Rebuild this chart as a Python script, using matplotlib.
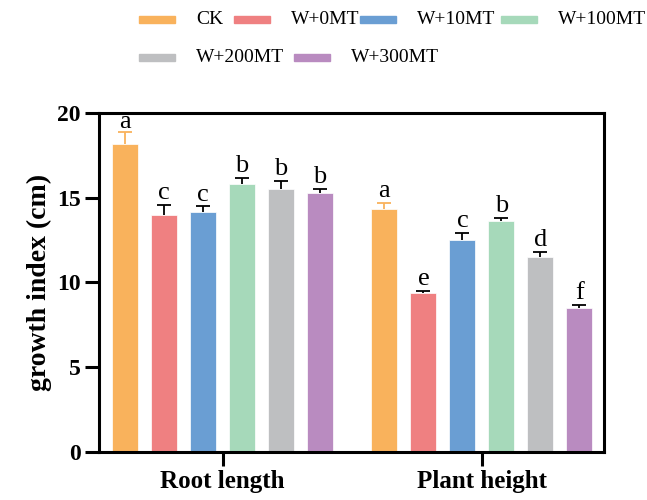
import matplotlib
matplotlib.use("Agg")
import matplotlib.pyplot as plt
import numpy as np
from matplotlib.patches import Rectangle

# Data
groups = ["Root length", "Plant height"]
treatments = ["CK", "W+0MT", "W+10MT", "W+100MT", "W+200MT", "W+300MT"]
root_mean = [18.15, 14.0, 14.15, 15.8, 15.5, 15.3]
root_err = [0.75, 0.55, 0.33, 0.37, 0.48, 0.22]
root_sig = ["a", "c", "c", "b", "b", "b"]
height_mean = [14.32, 9.35, 12.5, 13.6, 11.5, 8.5]
height_err = [0.35, 0.15, 0.44, 0.2, 0.32, 0.18]
height_sig = ["a", "e", "c", "b", "d", "f"]
colors = ["#F9B25C", "#EF8081", "#6A9ED3", "#A6D9BA", "#BEBFC1", "#B98BC0"]

plt.rcParams["font.family"] = ["Liberation Serif", "DejaVu Serif"]

fig = plt.figure(figsize=(6.47, 5.0), dpi=100)
ax = fig.add_axes([0.153, 0.0966, 0.7805, 0.6774])

group_pos = np.array([0.0, 6.65])
width = 0.67
means = [root_mean, height_mean]
errs = [root_err, height_err]
sigs = [root_sig, height_sig]

for i, name in enumerate(treatments):
    xs = group_pos + (i - 2.5)
    ys = np.array([means[0][i], means[1][i]])
    es = np.array([errs[0][i], errs[1][i]])
    ax.bar(xs, ys, width=width, color=colors[i], edgecolor="white",
           linewidth=0.5, zorder=2)
    ecol = colors[i] if i == 0 else "black"
    _, caps, _ = ax.errorbar(xs, ys, yerr=[np.zeros(2), es], fmt="none",
                             ecolor=ecol, elinewidth=1.3, capsize=4.7,
                             capthick=1.3, zorder=3)
    # only keep the upper caps
    for c in caps:
        if np.allclose(c.get_ydata(), ys):
            c.set_visible(False)
    for g in range(2):
        # keep the letter under the top spine
        ytop = min(ys[g] + es[g], 18.75)
        ax.annotate(sigs[g][i], (xs[g], ytop), xytext=(0, 4.3),
                    textcoords="offset points", ha="center", va="baseline",
                    fontsize=19)

ax.set_xlim(-3.17, 9.78)
ax.set_ylim(0, 20)
ax.set_yticks([0, 5, 10, 15, 20])
ax.set_xticks(group_pos)
ax.set_xticklabels(groups, fontsize=18, fontweight="bold")
for lab in ax.get_yticklabels():
    lab.set_fontsize(17)
    lab.set_fontweight("bold")
ax.set_ylabel("growth index (cm)", fontsize=20, fontweight="bold", labelpad=4)

for s in ax.spines.values():
    s.set_linewidth(2.2)
ax.tick_params(axis="both", direction="out", length=10, width=2.2, pad=3)

# Legend laid out like the reference (two rows, handles then labels)
leg_x = [139.3, 234.3, 360.0, 501.0, 139.3, 294.3]
leg_y = [19.5, 19.5, 19.5, 19.5, 57.3, 57.3]
W, H = 647.0, 500.0
for i, name in enumerate(treatments):
    x0 = leg_x[i] / W
    yc = 1 - leg_y[i] / H
    fig.patches.append(Rectangle((x0, yc - 3.8 / H), 36 / W, 7.6 / H,
                                 transform=fig.transFigure, color=colors[i]))
    fig.text(x0 + 57 / W, yc, name, fontsize=14, va="center", ha="left")

fig.savefig("out.png", dpi=100)
